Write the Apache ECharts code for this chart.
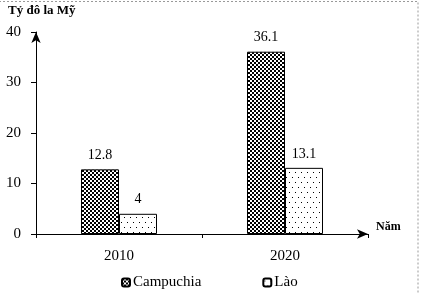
<!DOCTYPE html>
<html>
<head>
<meta charset="utf-8">
<script src="https://cdn.jsdelivr.net/npm/echarts@6/dist/echarts.min.js"></script>
<style>
  html, body { margin: 0; padding: 0; background: #fff; }
  #main { width: 424px; height: 293px; }
</style>
</head>
<body>
<div id="main"></div>
<script>
  var years = ['2010', '2020'];
  var campuchia = [12.8, 36.1];
  var lao = [4, 13.1];
  var yTicks = [0, 10, 20, 30, 40];

  // hatch patterns
  function checker() {
    var c = document.createElement('canvas');
    c.width = 4; c.height = 4;
    var ctx = c.getContext('2d');
    ctx.fillStyle = '#fff';
    ctx.fillRect(0, 0, 4, 4);
    ctx.fillStyle = '#000';
    ctx.fillRect(0, 0, 2, 2);
    ctx.fillRect(2, 2, 2, 2);
    return c;
  }
  function dots() {
    var c = document.createElement('canvas');
    c.width = 6; c.height = 10;
    var ctx = c.getContext('2d');
    ctx.fillStyle = '#fff';
    ctx.fillRect(0, 0, 6, 10);
    ctx.fillStyle = '#000';
    ctx.fillRect(1, 2, 1, 1);
    ctx.fillRect(4, 7, 1, 1);
    return c;
  }

  var serif = '"Liberation Serif", "DejaVu Serif", serif';
  var chart = echarts.init(document.getElementById('main'));
  chart.setOption({
    animation: false,
    textStyle: { fontFamily: serif, color: '#000' },
    title: {
      text: 'Tỷ đô la Mỹ',
      left: 3, top: -1,
      textStyle: { fontFamily: serif, fontSize: 13, fontWeight: 'bold', color: '#000' }
    },
    graphic: [{
      type: 'rect',
      shape: { x: -5, y: 1.5, width: 423, height: 400 },
      style: { fill: 'none', stroke: '#999', lineWidth: 1, lineDash: [2, 2] },
      silent: true
    }],
    legend: {
      left: 116, top: 270,
      itemWidth: 8, itemHeight: 8,
      itemGap: 61,
      textStyle: { fontFamily: serif, fontSize: 15, color: '#000', padding: [0, 0, 0, -2] },
      data: ['Campuchia', 'Lào']
    },
    grid: { left: 36, right: 56, top: 32, bottom: 59 },
    xAxis: {
      type: 'category',
      data: years,
      name: 'Năm',
      nameGap: 8,
      nameTextStyle: { fontFamily: serif, fontSize: 12, fontWeight: 'bold', color: '#000', verticalAlign: 'bottom', padding: [0, 0, 1, 0] },
      axisLine: { symbol: ['none', 'arrow'], symbolSize: [7, 11], lineStyle: { color: '#000', width: 1 } },
      axisTick: { show: true, length: 4, lineStyle: { color: '#000' } },
      axisLabel: { fontFamily: serif, fontSize: 15, color: '#000', margin: 15 }
    },
    yAxis: {
      type: 'value',
      min: 0, max: 40, interval: 10,
      axisLine: { show: true, symbol: ['none', 'arrow'], symbolSize: [7, 11], lineStyle: { color: '#000', width: 1 } },
      axisTick: { show: true, length: 5, lineStyle: { color: '#000' } },
      splitLine: { show: false },
      axisLabel: {
        fontFamily: serif, fontSize: 15, color: '#000', margin: 15,
        formatter: function (v) { return yTicks.indexOf(v) >= 0 ? String(v) : ''; }
      }
    },
    series: [{
      name: 'Campuchia',
      type: 'bar',
      data: campuchia,
      barWidth: 38,
      barGap: '0%',
      itemStyle: { color: { image: checker(), repeat: 'repeat' }, borderColor: '#000', borderWidth: 1 },
      label: { show: true, position: 'top', distance: 7, fontFamily: serif, fontSize: 14, color: '#000' }
    }, {
      name: 'Lào',
      type: 'bar',
      data: lao,
      barWidth: 38,
      itemStyle: { color: { image: dots(), repeat: 'repeat' }, borderColor: '#000', borderWidth: 1 },
      label: { show: true, position: 'top', distance: 7, fontFamily: serif, fontSize: 14, color: '#000' }
    }]
  });
</script>
</body>
</html>
